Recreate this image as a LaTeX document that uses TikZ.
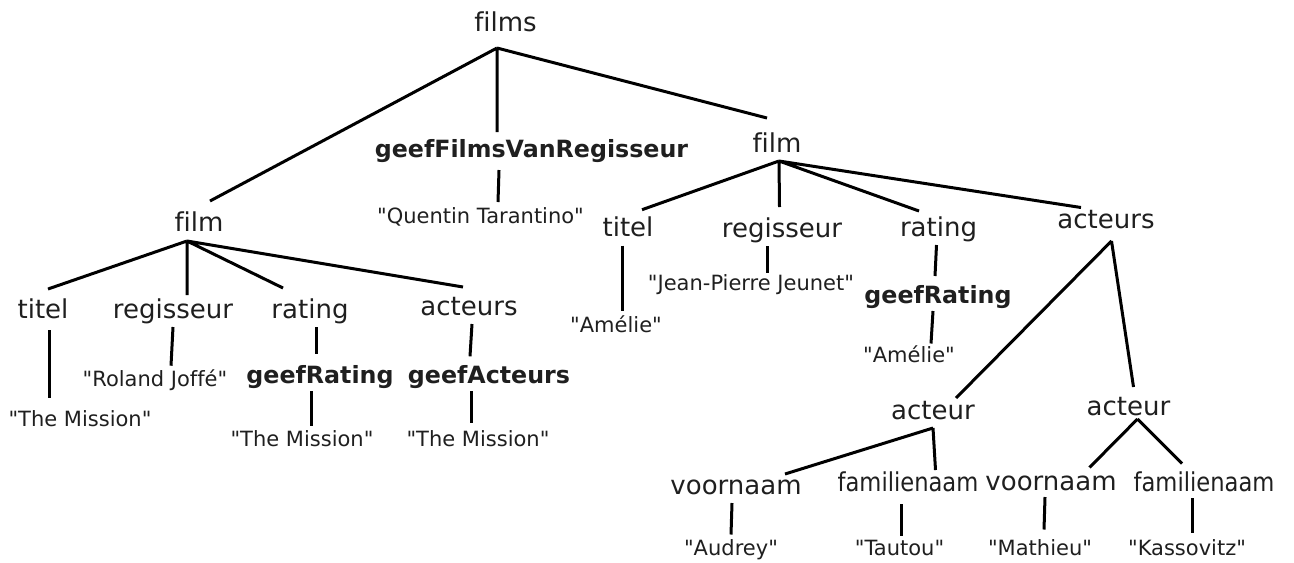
\documentclass[tikz,border=0pt]{standalone}
\usepackage{fontspec}
\setmainfont{DejaVu Sans}[Ligatures={TeXOff,NoCommon}]
\newfontfamily\narrowfont{DejaVu Sans}[Ligatures={TeXOff,NoCommon}, FakeStretch=0.87]

\begin{document}
\begin{tikzpicture}[
  x = 0.75pt, y = -0.75pt,
  line width = 2.25pt,
  every node/.style = {anchor = base, inner sep = 0pt, outer sep = 0pt, text = black!88},
  tag/.style = {font = \fontsize{19.5}{22}\selectfont, text height = 18.75pt, text depth = 6.75pt},
  narrowtag/.style = {tag, font = \narrowfont\fontsize{19.5}{22}\selectfont},
  call/.style = {font = \bfseries\fontsize{17.8}{21}\selectfont, text height = 20.25pt, text depth = 6pt},
  val/.style = {font = \fontsize{15.75}{18}\selectfont, text height = 15.75pt, text depth = 4.5pt},
  ]
  \useasboundingbox (0,0) rectangle (1294,562);

  % top
  \node[tag]  (films) at (505.5,31)  {films};
  \node[call] (gfr)   at (531.5,157) {geefFilmsVanRegisseur};
  \node[val]  (qt)    at (480.5,223) {"Quentin Tarantino"};
  \node[tag]  (filmL) at (199,231)   {film};
  \node[tag]  (filmR) at (777,152)   {film};

  % left film
  \node[tag]  (titL) at (43,318)    {titel};
  \node[tag]  (regL) at (173,318)   {regisseur};
  \node[tag]  (ratL) at (310,318)   {rating};
  \node[tag]  (actL) at (469,315)   {acteurs};
  \node[val]  (misA) at (80,426.7)  {"The Mission"};
  \node[val]  (rj)   at (155,386.7) {"Roland Joffé"};
  \node[call] (grL)  at (320,383.3) {geefRating};
  \node[val]  (misB) at (302,446.7) {"The Mission"};
  \node[call] (ga)   at (489,383.3) {geefActeurs};
  \node[val]  (misC) at (478,446.7) {"The Mission"};

  % right film
  \node[tag]  (titR) at (628,236.7)  {titel};
  \node[tag]  (regR) at (782,237)    {regisseur};
  \node[tag]  (ratR) at (938.5,236)  {rating};
  \node[tag]  (actR) at (1106,228.5) {acteurs};
  \node[val]  (amA)  at (616,332)    {"Amélie"};
  \node[val]  (jpj)  at (751,290)    {"Jean-Pierre Jeunet"};
  \node[call] (grR)  at (938,303)    {geefRating};
  \node[val]  (amB)  at (909,362.5)  {"Amélie"};
  \node[tag]  (acA)  at (933,419)    {acteur};
  \node[tag]  (acB)  at (1128.5,415) {acteur};
  \node[tag]  (vnA)  at (736,494)    {voornaam};
  \node[narrowtag] (fnA) at (908,491)  {familienaam};
  \node[tag]  (vnB)  at (1051,490)   {voornaam};
  \node[narrowtag] (fnB) at (1204,491) {familienaam};
  \node[val]  (au)   at (731,555.5)  {"Audrey"};
  \node[val]  (ta)   at (899.5,555.5) {"Tautou"};
  \node[val]  (ma)   at (1040,555.5) {"Mathieu"};
  \node[val]  (ka)   at (1187,555.5) {"Kassovitz"};

  % edges
  \draw ([shift={(-8.5,8)}]films.south) -- ([shift={(11,-5)}]filmL.north)
        ([shift={(-8.5,8)}]films.south) -- ([shift={(-34.5,2)}]gfr.north)
        ([shift={(-8.5,8)}]films.south) -- ([shift={(-10,-9)}]filmR.north);
  \draw ([shift={(-32.5,5)}]gfr.south) -- ([shift={(17.5,0)}]qt.north);

  \draw ([shift={(-12,1)}]filmL.south) -- ([shift={(5,-4)}]titL.north)
        ([shift={(-12,1)}]filmL.south) -- ([shift={(14,2)}]regL.north)
        ([shift={(-12,1)}]filmL.south) -- ([shift={(-27,-5)}]ratL.north)
        ([shift={(-12,1)}]filmL.south) -- ([shift={(-6,-3)}]actL.north);
  \draw ([shift={(6,3)}]titL.south) -- ([shift={(-31,-8)}]misA.north);
  \draw (regL.south) -- ([shift={(16,0)}]rj.north);
  \draw ([shift={(6,0)}]ratL.south) -- ([shift={(-4,-2)}]grL.north);
  \draw ([shift={(-8.5,0)}]grL.south) -- ([shift={(9.5,0)}]misB.north);
  \draw ([shift={(3,0)}]actL.south) -- ([shift={(-19,0)}]ga.north);
  \draw ([shift={(-18,0)}]ga.south) -- ([shift={(-7,-3)}]misC.north);

  \draw ([shift={(2,0)}]filmR.south) -- ([shift={(14,-2)}]titR.north)
        ([shift={(2,0)}]filmR.south) -- ([shift={(-2.5,-5)}]regR.north)
        ([shift={(2,0)}]filmR.south) -- ([shift={(-19.5,0)}]ratR.north)
        ([shift={(2,0)}]filmR.south) -- ([shift={(-25,4)}]actR.north);
  \draw ([shift={(-6,0)}]titR.south) -- ([shift={(6,0)}]amA.north);
  \draw ([shift={(-15,0)}]regR.south) -- ([shift={(16,4)}]jpj.north);
  \draw ([shift={(-2,0)}]ratR.south) -- ([shift={(-3,0)}]grR.north);
  \draw ([shift={(-5,0)}]grR.south) -- ([shift={(22,2)}]amB.north);
  \draw ([shift={(5.5,3.5)}]actR.south) -- ([shift={(23,4)}]acA.north)
        ([shift={(5.5,3.5)}]actR.south) -- ([shift={(5,-3)}]acB.north);
  \draw (acA.south) -- ([shift={(49,5)}]vnA.north)
        (acA.south) -- ([shift={(27.5,4)}]fnA.north);
  \draw ([shift={(9,-5)}]acB.south) -- ([shift={(38.5,2.5)}]vnB.north)
        ([shift={(9,-5)}]acB.south) -- ([shift={(-22,-2.5)}]fnB.north);
  \draw ([shift={(-4,0)}]vnA.south) -- (au.north);
  \draw ([shift={(-7,4)}]fnA.south) -- ([shift={(1.5,1.5)}]ta.north);
  \draw ([shift={(-6,-2)}]vnB.south) -- ([shift={(4,-5)}]ma.north);
  \draw ([shift={(-12,-2)}]fnB.south) -- ([shift={(5,-2)}]ka.north);
\end{tikzpicture}
\end{document}
